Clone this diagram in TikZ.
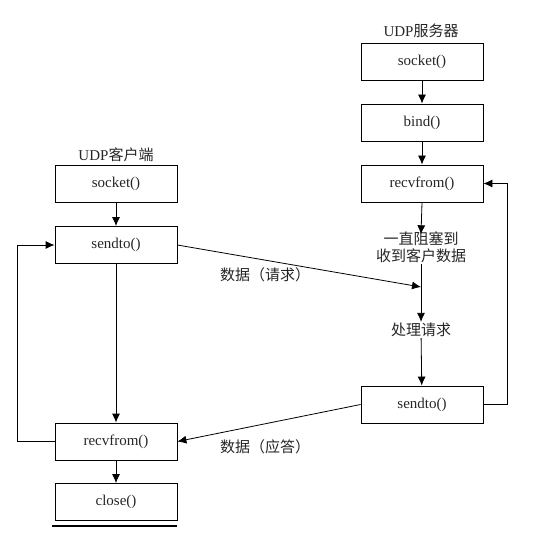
\documentclass[tikz,border=0pt]{standalone}
\usepackage{fontspec}
\setmainfont{Liberation Serif}
\newfontfamily\cjk{Noto Sans CJK SC}
\usepackage{tikz}
\usetikzlibrary{arrows.meta, positioning}

\begin{document}
\begin{tikzpicture}[
    x=1pt, y=-1pt,
    every node/.style={font=\fontsize{15}{19}\selectfont, text=black!85},
    box/.style={draw, line width=0.8pt, minimum width=122pt, minimum height=37pt, inner sep=0pt},
    note/.style={align=center, inner sep=1pt},
    flow/.style={line width=0.8pt, -{Latex[length=9pt, width=8pt]}}
]
\useasboundingbox (0,0) rectangle (548,540);

% client side
\node (ctitle) at (116,155) {UDP{\cjk 客户端}};
\node[box] (csock) at (116,183.5) {socket()};
\node[box] (csend) at (116,245) {sendto()};
\node[box] (crecv) at (116,441.5) {recvfrom()};
\node[box] (cclose) at (116,502) {close()};

% server side
\node (stitle) at (421,31) {UDP{\cjk 服务器}};
\node[box] (ssock) at (422,61.5) {socket()};
\node[box] (sbind) at (422,122.5) {bind()};
\node[box] (srecv) at (422,183.5) {recvfrom()};
\node[note] (wait) at (421,247) {\cjk 一直阻塞到\\[-2pt]\cjk 收到客户数据};
\node[note] (proc) at (421,330) {\cjk 处理请求};
\node[box] (ssend) at (422,404.5) {sendto()};

% data labels
\node (req) at (265,275) {\cjk 数据（请求）};
\node (resp) at (265,447) {\cjk 数据（应答）};

\coordinate (cloop) at (17,441.5);
\coordinate (sloop) at (507,404.5);
\coordinate (rqend) at (421,287);

\draw[flow] (csock) -- (csend);
\draw[flow] (csend) -- (crecv);
\draw[flow] (crecv) -- (cclose);
\draw[flow] (crecv.west) -- (cloop) |- (csend.west);

\draw[flow] (ssock) -- (sbind);
\draw[flow] (sbind) -- (srecv);
\draw[flow] (srecv.south) -- ([yshift=-4pt]wait.north);
\draw[flow] (wait.south -| rqend) -- (proc.north -| rqend);
\draw[flow] (proc) -- (ssend);
\draw[flow] (ssend.east) -- (sloop) |- (srecv.east);

\draw[flow] (csend.east) -- (rqend);
\draw[flow] (ssend.west) -- (crecv.east);

\draw[line width=1.8pt] ([shift={(-3,5)}]cclose.south west) -- ([shift={(0,5)}]cclose.south east);
\end{tikzpicture}
\end{document}
